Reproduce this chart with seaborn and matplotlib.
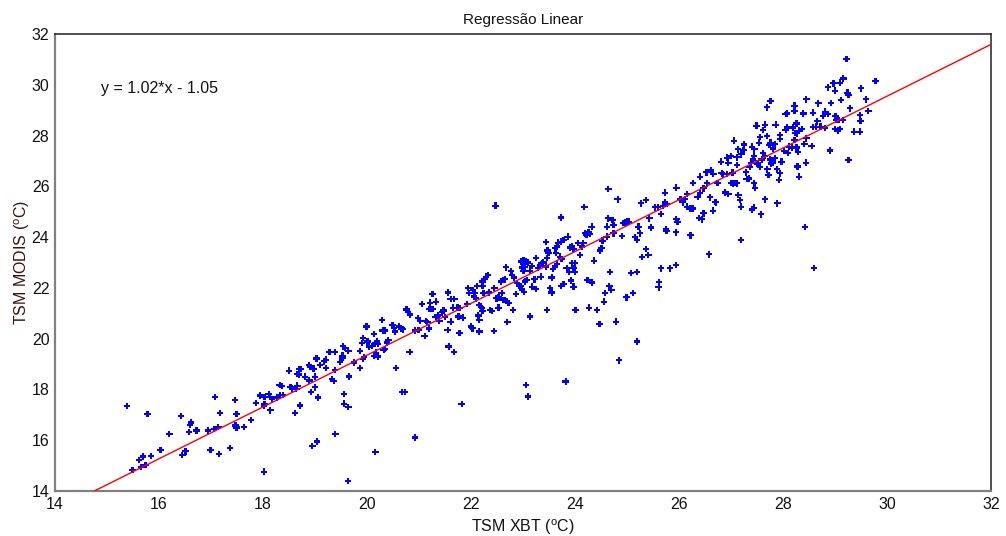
import matplotlib
matplotlib.use("Agg")
import matplotlib.pyplot as plt
import seaborn as sns
import numpy as np
import pandas as pd

# ---- data ----
tsm_xbt = [
15.38,15.78,15.49,15.62,15.69,15.65,15.74,15.85,16.03,16.20,16.42,16.60,16.62,16.58,16.72,16.45,16.51,16.94,16.99,17.08,
17.06,17.14,17.15,17.17,17.37,17.46,17.49,17.47,17.49,17.63,17.77,17.87,17.95,18.03,18.03,18.02,18.11,18.14,18.17,18.14,
18.02,18.27,18.32,18.36,18.33,18.38,18.53,18.56,18.66,18.64,18.71,18.62,18.89,18.92,19.00,19.06,18.95,19.04,
18.50,18.70,18.72,18.66,18.69,18.81,18.88,18.90,18.97,19.03,19.00,19.10,19.17,19.21,19.21,19.28,19.63,19.38,19.38,19.33,
19.36,19.48,19.53,19.53,19.54,19.58,19.64,19.65,19.56,19.56,19.64,19.39,19.75,19.87,19.87,19.92,19.94,19.90,19.92,19.99,
20.01,20.04,20.10,20.13,20.15,20.19,20.21,20.17,20.21,20.13,20.29,20.30,20.35,20.38,20.41,20.32,20.35,20.49,20.52,20.54,
20.62,20.66,20.69,20.56,20.67,20.73,20.82,20.76,20.79,20.83,20.92,20.92,20.99,20.98,21.02,21.06,21.11,21.13,21.16,21.19,
21.19,21.23,21.27,21.21,21.26,21.32,21.36,21.33,21.39,21.44,21.47,21.50,21.55,21.57,21.56,20.16,
21.61,21.68,21.65,21.61,21.67,21.74,21.78,21.76,21.78,21.82,21.85,21.95,21.96,21.93,22.00,22.03,22.04,22.06,22.10,22.08,
22.12,22.15,22.19,22.14,22.16,22.16,22.22,22.21,22.26,22.29,22.33,22.24,22.21,22.22,22.35,22.37,22.40,22.45,22.44,22.47,
22.49,22.53,22.53,22.58,22.62,22.65,22.59,22.62,22.65,22.69,22.67,22.70,22.72,22.77,22.79,22.83,22.81,22.87,22.88,22.92,
22.96,23.01,23.06,23.10,22.99,22.96,22.98,23.02,23.04,23.07,23.01,23.04,23.06,23.10,23.13,23.13,23.17,23.18,23.22,23.25,
23.25,23.29,23.33,23.36,23.39,23.34,23.46,23.44,23.46,23.44,23.47,23.49,23.52,23.55,23.55,23.58,23.62,23.65,23.62,23.65,
23.68,23.63,23.71,23.74,23.73,23.78,23.73,23.73,23.78,23.82,23.86,23.84,23.88,23.92,23.90,23.94,23.97,23.94,24.00,23.97,
23.97,24.00,24.01,24.06,24.10,24.13,24.16,24.18,24.19,24.22,24.26,24.29,24.24,24.27,24.32,24.33,24.37,24.42,24.47,24.48,
24.51,24.53,24.56,24.58,24.61,24.62,24.64,24.64,24.66,24.67,24.70,24.72,24.74,24.74,24.79,24.82,24.85,24.90,24.93,24.97,
25.01,25.04,24.99,25.08,25.12,25.15,25.19,25.19,25.19,25.22,25.25,25.27,25.29,25.37,25.37,25.41,25.43,
27.49,27.65,27.86,28.05,28.08,28.19,28.26,27.62,27.06,27.25,27.13,27.40,27.45,27.54,27.56,27.69,27.74,27.76,27.81,27.85,
27.94,27.94,28.02,28.09,28.12,28.17,28.22,28.23,28.26,28.29,26.81,26.92,26.95,27.00,27.11,27.12,27.20,27.24,27.36,27.38,
27.42,27.44,27.51,27.56,27.59,27.62,27.65,27.75,27.77,27.80,27.84,27.88,27.97,28.29,26.40,26.53,26.61,26.66,26.74,26.82,
26.85,26.92,27.03,27.00,27.04,27.08,27.12,27.29,27.30,27.35,27.44,27.70,27.72,27.92,27.94,28.31,26.27,26.54,26.47,25.95,
26.40,26.36,26.60,26.69,26.71,26.88,26.95,27.14,27.17,27.46,27.65,27.89,26.03,26.07,26.12,26.15,25.73,25.73,25.76,25.54,
25.59,25.69,25.65,26.16,26.21,26.26,26.39,26.44,26.47,26.65,27.40,27.44,27.58,27.19,25.46,25.95,25.97,25.94,25.75,25.76,
26.22,27.19,26.58,25.65,25.83,25.94,25.62,25.61,
29.22,29.78,29.16,29.10,28.97,28.87,29.00,29.24,29.26,29.50,29.60,29.12,28.92,28.68,28.45,27.76,27.69,28.22,28.22,28.08,
28.05,28.39,28.58,28.81,28.77,28.86,28.66,28.64,29.01,29.03,29.08,29.15,29.29,29.48,29.49,29.64,29.37,29.48,29.10,29.00,
29.05,28.81,28.72,28.58,28.45,28.41,28.36,28.31,28.26,28.27,28.55,28.90,29.26,28.44,28.28,28.31,28.42,28.60,
]
tsm_modis = [
17.35,17.03,14.82,15.23,15.36,14.94,15.02,15.37,15.62,16.25,16.96,16.61,16.70,16.32,16.38,15.41,15.56,16.38,15.62,17.70,
16.45,16.53,15.45,17.07,15.69,17.59,17.03,16.58,16.50,16.53,16.80,17.47,17.76,17.70,17.43,17.35,17.83,17.70,17.63,17.18,
14.76,17.68,18.18,18.13,17.78,17.79,18.09,18.04,18.15,18.01,17.37,17.07,18.35,17.89,18.08,17.68,15.78,15.95,
18.74,18.80,18.80,18.61,18.59,18.50,18.96,18.88,18.82,19.22,18.50,18.96,19.11,19.17,18.84,19.48,14.40,19.48,18.76,18.41,
18.34,19.09,19.26,19.33,19.70,19.63,19.53,18.51,17.83,17.44,17.30,16.25,19.06,18.84,19.52,19.20,19.27,19.83,20.02,20.48,
19.89,19.69,19.72,20.19,19.81,19.89,19.80,19.45,19.30,19.33,20.73,20.32,20.32,19.85,19.95,19.55,19.60,20.54,20.41,20.28,
20.48,20.41,20.37,18.84,17.89,17.89,19.47,21.15,21.04,20.95,16.11,20.32,20.35,20.82,20.71,21.36,20.11,20.70,20.65,20.40,
21.16,21.16,21.16,21.42,21.75,20.85,20.91,21.46,20.71,21.04,21.11,20.85,20.35,19.69,21.82,15.54,
21.56,21.56,21.22,20.67,19.47,21.22,21.20,20.87,20.22,17.42,20.83,21.99,21.79,21.36,20.48,20.41,21.92,21.66,21.59,21.79,
22.08,21.33,21.26,20.91,20.74,20.28,22.08,22.25,22.34,22.44,22.51,21.79,21.20,21.09,21.82,21.13,21.09,21.99,20.31,25.24,
21.59,21.62,21.22,22.25,22.31,22.34,21.79,21.53,21.53,21.49,22.81,20.65,21.40,22.67,22.51,22.41,21.13,21.75,22.18,22.08,
23.04,23.07,23.04,23.00,22.80,22.08,21.92,21.85,22.25,22.31,22.68,22.81,18.18,17.72,20.87,22.68,22.87,22.05,22.34,23.17,
21.95,22.78,22.91,22.97,23.00,22.44,21.13,22.84,23.17,23.80,23.47,23.39,21.99,21.82,22.41,22.74,22.84,22.94,23.56,23.63,
23.78,23.37,23.23,23.13,23.82,23.89,24.77,22.08,22.16,18.31,24.02,22.78,22.64,22.29,23.59,23.63,23.54,22.97,22.97,22.05,
22.78,22.64,21.13,23.76,23.30,23.63,23.76,25.18,24.15,24.09,24.18,24.13,22.31,21.22,24.41,22.21,23.07,21.13,20.58,23.47,
23.56,23.86,21.46,21.79,24.02,24.41,24.74,25.89,22.08,22.62,21.92,24.68,24.48,24.15,20.67,25.49,19.15,24.05,24.55,24.57,
24.61,24.61,21.63,22.58,21.79,24.00,23.89,22.62,19.89,24.41,24.15,25.33,23.21,25.46,23.54,23.30,24.74,
28.39,28.43,28.43,28.22,28.32,28.32,28.45,28.22,27.80,27.65,27.46,27.56,27.46,27.72,27.95,27.98,27.63,27.72,27.49,27.67,
28.02,27.86,27.40,27.32,27.56,27.53,27.82,28.11,27.53,27.36,26.97,27.13,26.93,27.19,27.14,26.84,27.26,27.43,26.77,26.93,
27.06,27.19,26.90,26.77,27.06,27.30,27.19,27.06,26.90,26.93,27.10,26.67,26.97,26.77,26.38,26.55,26.64,26.48,26.14,26.51,
26.47,26.48,26.54,26.14,26.12,26.14,26.12,26.55,26.28,26.31,26.12,26.67,26.44,26.25,26.51,26.38,26.14,26.12,25.92,25.95,
25.75,25.59,25.57,25.39,25.37,25.76,25.70,25.66,25.46,25.95,25.49,25.33,25.49,25.37,25.49,25.70,25.75,25.36,25.30,25.17,
25.17,25.22,24.91,25.20,25.13,25.13,24.76,24.70,24.94,25.04,25.09,25.16,24.90,25.20,24.38,24.70,24.61,24.19,24.31,24.25,
24.07,23.89,23.32,22.77,22.77,22.90,22.22,22.02,
31.01,30.14,30.25,30.08,30.06,29.90,29.77,29.69,29.60,29.86,29.43,29.40,29.29,29.27,29.43,29.36,29.11,29.18,28.98,28.87,
28.85,28.87,28.90,28.94,28.77,28.85,28.56,28.35,28.77,28.61,28.61,28.61,29.07,28.81,28.57,28.97,28.15,28.15,28.25,28.25,
28.19,28.29,28.35,28.33,27.89,27.67,28.25,28.19,28.48,28.09,27.59,27.41,27.04,26.93,26.78,26.38,24.39,22.79,
]
fit_slope = 1.02
fit_intercept = -1.05
axis_ticks = [14, 16, 18, 20, 22, 24, 26, 28, 30, 32]

sns.set_theme(style="white")
plt.rcParams["font.family"] = ["Liberation Sans", "DejaVu Sans"]
plt.rcParams["mathtext.fontset"] = "custom"
plt.rcParams["mathtext.rm"] = "Liberation Sans"
plt.rcParams["mathtext.it"] = "Liberation Sans:italic"

df = pd.DataFrame({"xbt": tsm_xbt, "modis": tsm_modis})
line_x = np.array([14.0, 32.0])
line_df = pd.DataFrame({"x": line_x, "y": fit_slope * line_x + fit_intercept})

fig = plt.figure(figsize=(10.06, 5.36), dpi=100)
ax = fig.add_axes([55/1006, 1 - 491/536, 936/1006, 457/536])

sns.scatterplot(data=df, x="xbt", y="modis", ax=ax, marker="P", s=22,
                color="#0000ff", edgecolor="none", linewidth=0, zorder=3)
sns.lineplot(data=line_df, x="x", y="y", ax=ax, color="#ff0000", linewidth=1.0, zorder=4)

ax.set_xlim(14, 32)
ax.set_ylim(14, 32)
ax.set_xticks(axis_ticks)
ax.set_yticks(axis_ticks)
ax.tick_params(direction="in", length=8, width=1.3, color="#808080",
               labelsize=11.5, labelcolor="#111111", pad=4)
for side in ["left", "bottom"]:
    ax.spines[side].set_color("#808080")
    ax.spines[side].set_linewidth(1.6)
for side in ["top", "right"]:
    ax.spines[side].set_color("#222222")
    ax.spines[side].set_linewidth(1.1)

ax.set_xlabel(r"TSM XBT ($^{\rm o}$C)", fontsize=11.5, color="#111111", labelpad=4)
ax.set_ylabel(r"TSM MODIS ($^{\rm o}$C)", fontsize=11.5, color="#3a1010", labelpad=0)
ax.set_title("Regressão Linear", fontsize=11, color="#111111", pad=7)
ax.text(14.88, 29.87, "y = 1.02*x - 1.05", fontsize=11.5, color="#111111",
        ha="left", va="center")
ax.grid(False)

fig.savefig("out.png", dpi=100)
